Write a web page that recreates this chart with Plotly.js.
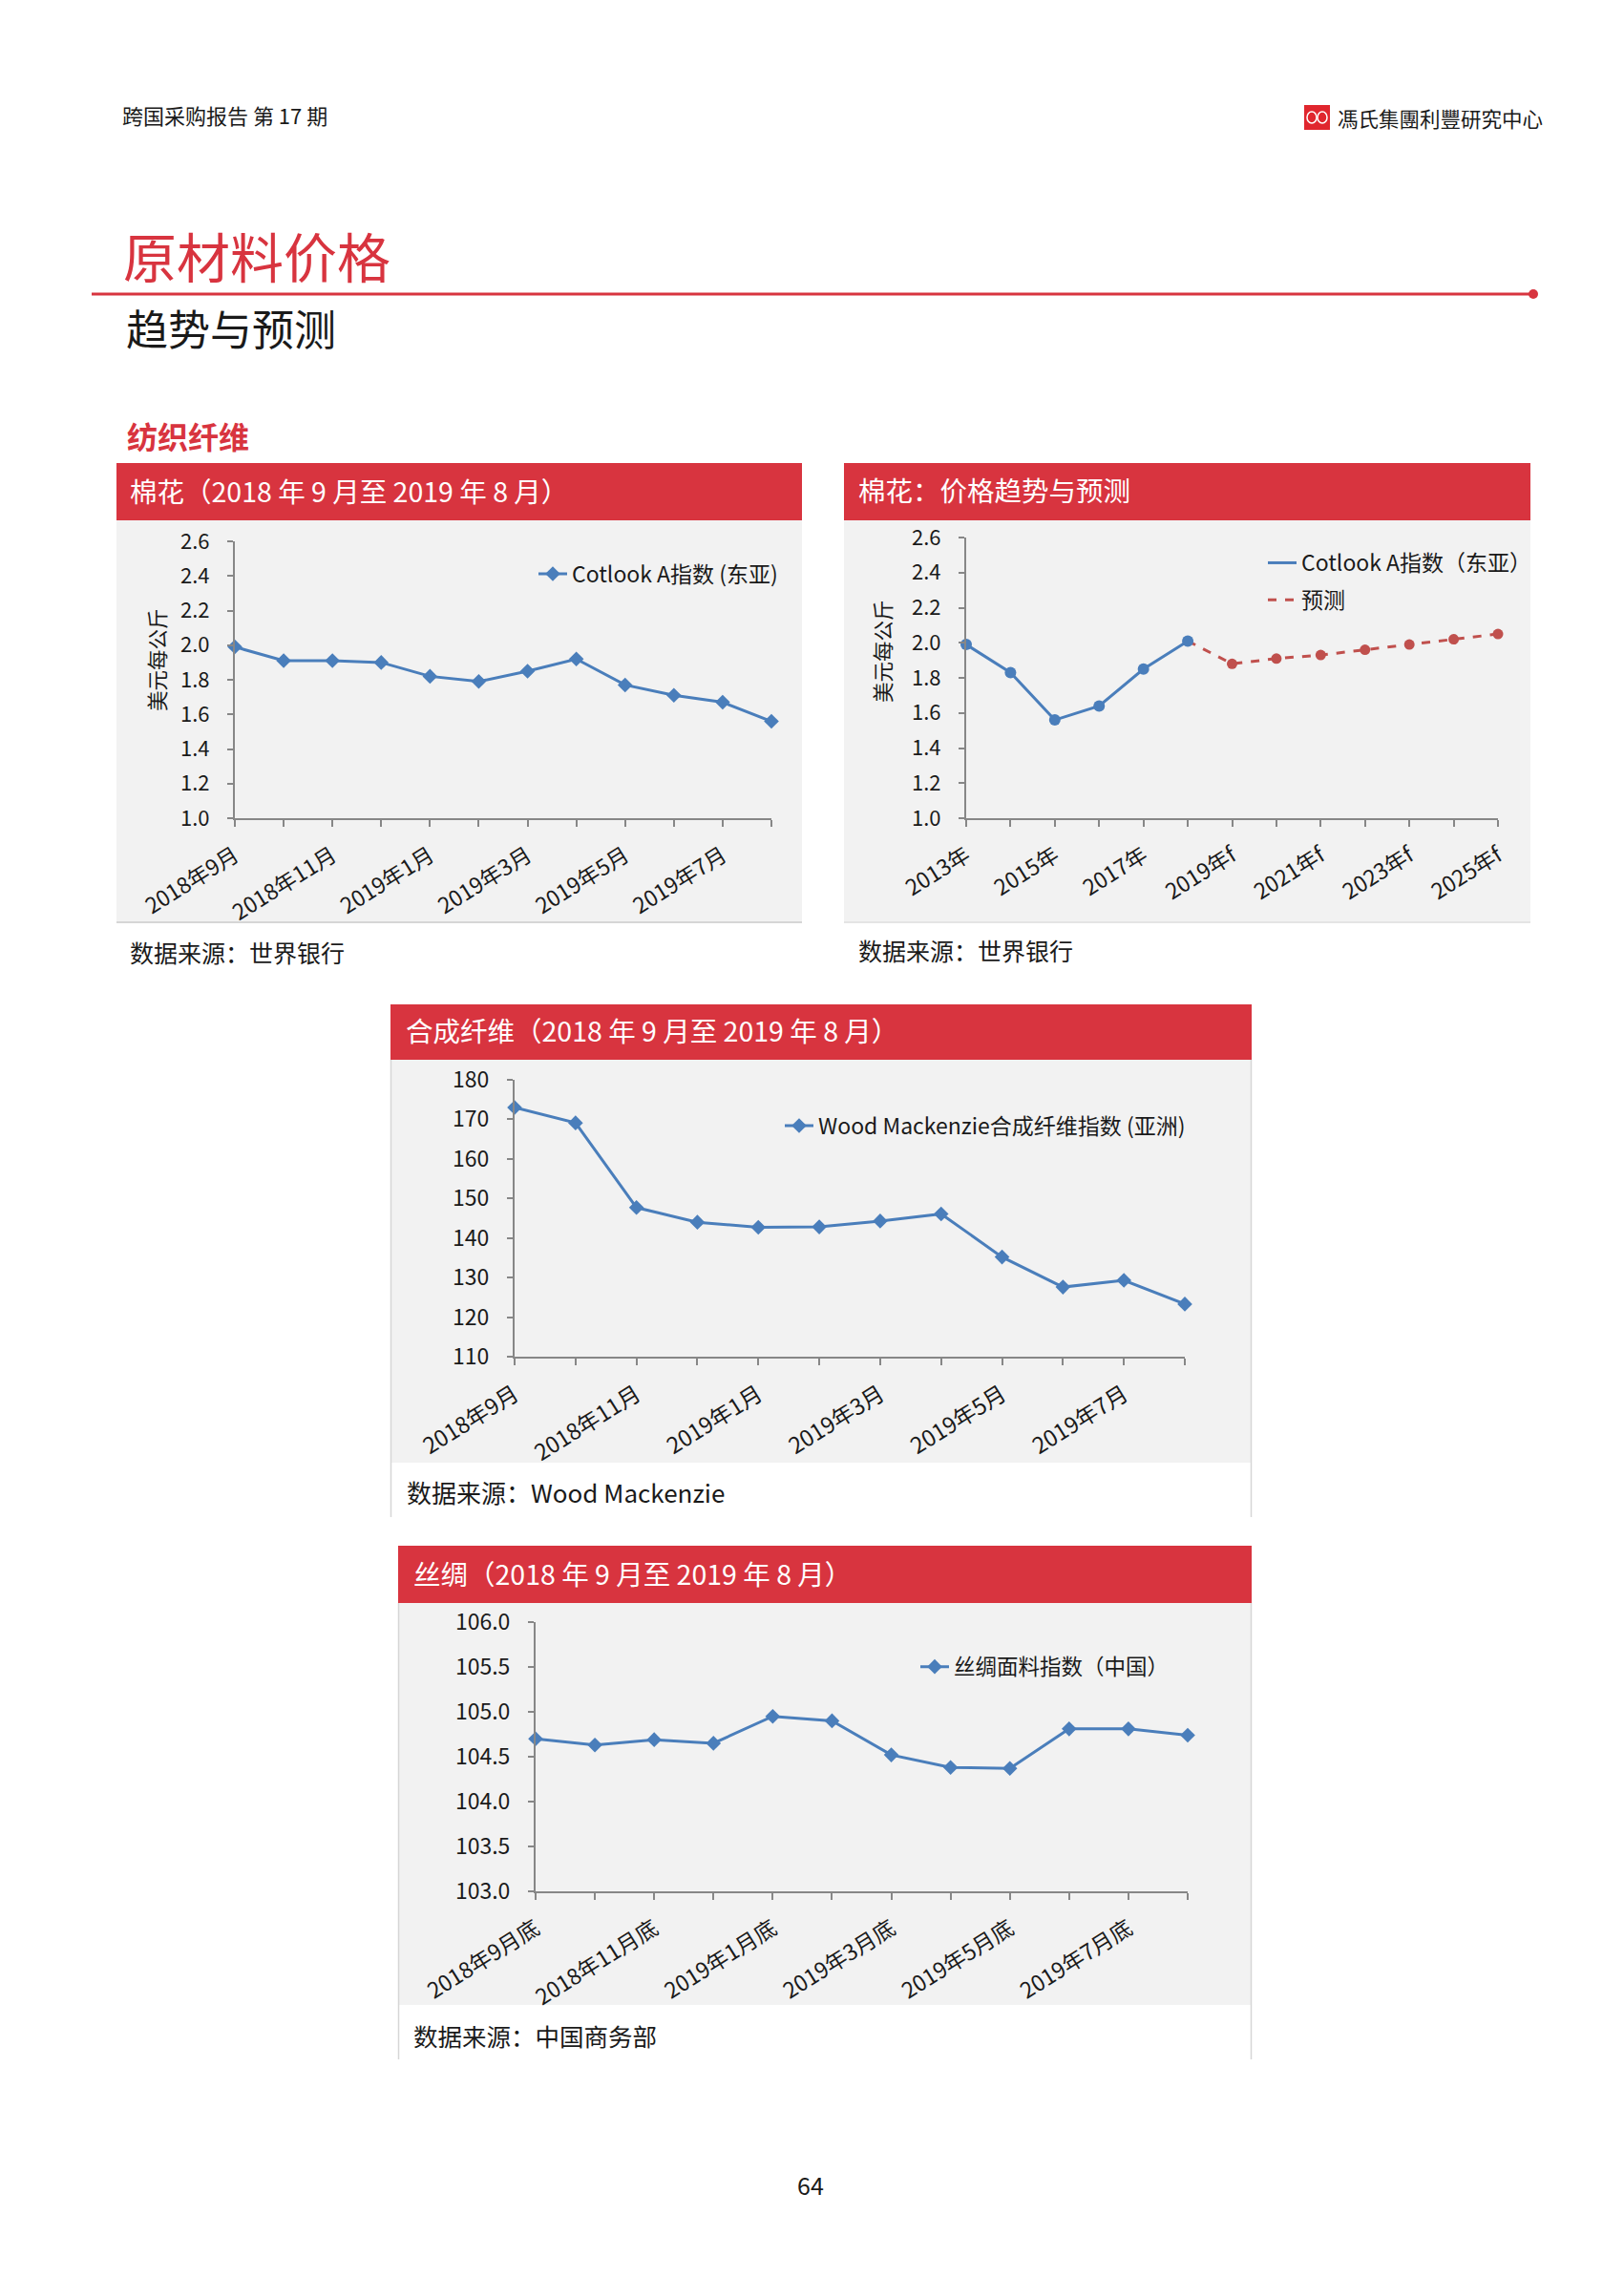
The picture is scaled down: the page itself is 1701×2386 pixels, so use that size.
<!DOCTYPE html>
<html><head><meta charset="utf-8">
<script src="https://cdn.plot.ly/plotly-3.0.1.min.js"></script>
<style>html,body{margin:0;padding:0;background:#fff}#page{width:1701px;height:2386px}</style>
</head><body><div id="page"></div>
<script>
// ---------- data ----------
const cottonMonths = ['2018年9月','2018年10月','2018年11月','2018年12月','2019年1月','2019年2月','2019年3月','2019年4月','2019年5月','2019年6月','2019年7月','2019年8月'];
const cottonMonthly = [1.99, 1.91, 1.91, 1.90, 1.82, 1.79, 1.85, 1.92, 1.77, 1.71, 1.67, 1.56];

const cottonYears = ['2013年','2014年','2015年','2016年','2017年','2018年'];
const cottonHist = [1.99, 1.83, 1.56, 1.64, 1.85, 2.01];
const forecastYears = ['2019年f','2020年f','2021年f','2022年f','2023年f','2024年f','2025年f'];
const cottonForecast = [1.88, 1.91, 1.93, 1.96, 1.99, 2.02, 2.05];

const synthMonths = ['2018年9月','2018年10月','2018年11月','2018年12月','2019年1月','2019年2月','2019年3月','2019年4月','2019年5月','2019年6月','2019年7月','2019年8月'];
const synthIndex = [173.0, 169.1, 147.7, 144.0, 142.7, 142.8, 144.3, 146.1, 135.2, 127.6, 129.3, 123.3];

const silkMonths = ['2018年9月底','2018年10月底','2018年11月底','2018年12月底','2019年1月底','2019年2月底','2019年3月底','2019年4月底','2019年5月底','2019年6月底','2019年7月底','2019年8月底'];
const silkIndex = [104.70, 104.63, 104.69, 104.65, 104.95, 104.90, 104.52, 104.38, 104.37, 104.81, 104.81, 104.74];

// ---------- layout helpers ----------
const W = 1701, H = 2386;
const X = v => v / W, Y = v => 1 - v / H;
const FONT = '"Noto Sans CJK SC", "Noto Sans", sans-serif';
const RED = '#D8343F', BLUE = '#4A7EBB', FRED = '#C0504D', PANEL = '#F2F2F2', AX = '#878787';

function xAxis(x0, x1, yName, cats, fontSize) {
  return {
    domain: [X(x0), X(x1)], anchor: yName, type: 'category',
    categoryorder: 'array', categoryarray: cats, range: [0, cats.length - 1],
    tickvals: cats, ticktext: cats.map((c, i) => i % 2 ? '' : c),
    tickangle: -32, showgrid: false, zeroline: false, showline: true,
    linecolor: AX, linewidth: 2, ticks: 'outside', ticklen: 7, tickwidth: 2, tickcolor: AX,
    tickfont: {family: FONT, size: fontSize, color: '#1a1a1a'}, ticklabelstandoff: 8,
    fixedrange: true
  };
}
function yAxis(y0, y1, xName, range, dtick, fmt, fontSize) {
  return {
    domain: [Y(y1), Y(y0)], anchor: xName, range: range, dtick: dtick, tick0: range[0],
    tickformat: fmt, showgrid: false, zeroline: false, showline: true,
    linecolor: AX, linewidth: 2, ticks: 'outside', ticklen: 6, tickwidth: 2, tickcolor: AX,
    tickfont: {family: FONT, size: fontSize, color: '#1a1a1a'}, ticklabelstandoff: 14,
    fixedrange: true
  };
}

const traces = [
  {x: cottonMonths, y: cottonMonthly, xaxis: 'x', yaxis: 'y', mode: 'lines+markers',
   name: 'Cotlook A指数 (东亚)', legend: 'legend', cliponaxis: false,
   line: {color: BLUE, width: 3}, marker: {symbol: 'diamond', size: 12, color: BLUE}},

  {x: cottonYears, y: cottonHist, xaxis: 'x2', yaxis: 'y2', mode: 'lines',
   name: 'Cotlook A指数（东亚）', legend: 'legend2', legendgroup: 'a', cliponaxis: false,
   line: {color: BLUE, width: 3}},
  {x: [cottonYears[cottonYears.length - 1]].concat(forecastYears),
   y: [cottonHist[cottonHist.length - 1]].concat(cottonForecast),
   xaxis: 'x2', yaxis: 'y2', mode: 'lines', name: '预测', legend: 'legend2', legendgroup: 'b',
   cliponaxis: false, line: {color: FRED, width: 3, dash: 'dash'}},
  {x: cottonYears, y: cottonHist, xaxis: 'x2', yaxis: 'y2', mode: 'markers', showlegend: false,
   cliponaxis: false, marker: {symbol: 'circle', size: 12, color: BLUE}},
  {x: forecastYears, y: cottonForecast, xaxis: 'x2', yaxis: 'y2', mode: 'markers', showlegend: false,
   cliponaxis: false, marker: {symbol: 'circle', size: 11, color: FRED}},

  {x: synthMonths, y: synthIndex, xaxis: 'x3', yaxis: 'y3', mode: 'lines+markers',
   name: 'Wood Mackenzie合成纤维指数 (亚洲)', legend: 'legend3', cliponaxis: false,
   line: {color: BLUE, width: 3}, marker: {symbol: 'diamond', size: 12, color: BLUE}},

  {x: silkMonths, y: silkIndex, xaxis: 'x4', yaxis: 'y4', mode: 'lines+markers',
   name: '丝绸面料指数（中国）', legend: 'legend4', cliponaxis: false,
   line: {color: BLUE, width: 3}, marker: {symbol: 'diamond', size: 12, color: BLUE}}
];

const allYears = cottonYears.concat(forecastYears);

function rect(x0, y0, x1, y1, fill, layer) {
  return {type: 'rect', xref: 'paper', yref: 'paper', x0: X(x0), x1: X(x1), y0: Y(y1), y1: Y(y0),
          fillcolor: fill, line: {width: 0}, layer: layer || 'below'};
}
function line(x0, y0, x1, y1, color, w) {
  return {type: 'line', xref: 'paper', yref: 'paper', x0: X(x0), x1: X(x1), y0: Y(y0), y1: Y(y1),
          line: {color: color, width: w}, layer: 'below'};
}
function txt(text, x, y, size, color, opts) {
  return Object.assign({text: text, xref: 'paper', yref: 'paper', x: X(x), y: Y(y),
    xanchor: 'left', yanchor: 'middle', showarrow: false,
    font: {family: FONT, size: size, color: color}}, opts || {});
}

const shapes = [
  // title rule
  line(96, 308, 1606, 308, RED, 3),
  {type: 'circle', xref: 'paper', yref: 'paper', x0: X(1601), x1: X(1611), y0: Y(313), y1: Y(303),
   fillcolor: RED, line: {width: 0}},
  // logo box
  {type: 'rect', xref: 'paper', yref: 'paper', x0: X(1366), x1: X(1393), y0: Y(136), y1: Y(110),
   fillcolor: '#E0262E', line: {width: 0}},
  {type: 'circle', xref: 'paper', yref: 'paper', x0: X(1369), x1: X(1379), y0: Y(129), y1: Y(117),
   line: {color: '#fff', width: 1.5}},
  {type: 'circle', xref: 'paper', yref: 'paper', x0: X(1380), x1: X(1390), y0: Y(129), y1: Y(117),
   line: {color: '#fff', width: 1.5}},
  // chart 1
  rect(122, 485, 840, 545, RED), rect(122, 545, 840, 966, PANEL),
  line(122, 966, 840, 966, '#D6D6D6', 2),
  // chart 2
  rect(884, 485, 1603, 545, RED), rect(884, 545, 1603, 966, PANEL),
  line(884, 966, 1603, 966, '#E4E4E4', 2),
  // chart 3
  rect(409, 1052, 1311, 1110, RED), rect(409, 1110, 1311, 1532, PANEL),
  line(409.5, 1110, 409.5, 1589, '#D6D6D6', 1.5), line(1310.5, 1110, 1310.5, 1589, '#D6D6D6', 1.5),
  // chart 4
  rect(417, 1619, 1311, 1679, RED), rect(417, 1679, 1311, 2100, PANEL),
  line(417.5, 1679, 417.5, 2157, '#D6D6D6', 1.5), line(1310.5, 1679, 1310.5, 2157, '#D6D6D6', 1.5)
];

const annotations = [
  txt('跨国采购报告 第 17 期', 126, 120, 22, '#1a1a1a'),
  txt('馮氏集團利豐研究中心', 1399, 124, 21.5, '#1a1a1a', {font: {family: '"Noto Sans CJK TC", ' + FONT, size: 21.5, color: '#1a1a1a'}}),
  txt('原材料价格', 127, 267, 56, RED),
  txt('趋势与预测', 130, 343, 44, '#1a1a1a'),
  txt('<b>纺织纤维</b>', 131, 456, 32, RED),

  txt('棉花（2018 年 9 月至 2019 年 8 月）', 134, 513, 28.5, '#ffffff'),
  txt('棉花：价格趋势与预测', 897, 512, 28.5, '#ffffff'),
  txt('合成纤维（2018 年 9 月至 2019 年 8 月）', 423, 1079, 28.5, '#ffffff'),
  txt('丝绸（2018 年 9 月至 2019 年 8 月）', 431, 1647, 28.5, '#ffffff'),

  txt('美元每公斤', 163, 691, 21.5, '#1a1a1a', {xanchor: 'center', textangle: -90}),
  txt('美元每公斤', 923, 682, 21.5, '#1a1a1a', {xanchor: 'center', textangle: -90}),

  txt('数据来源：世界银行', 134, 997, 25, '#1a1a1a'),
  txt('数据来源：世界银行', 897, 995, 25, '#1a1a1a'),
  txt('数据来源：Wood Mackenzie', 424, 1563, 26, '#1a1a1a'),
  txt('数据来源：中国商务部', 431, 2131, 25.5, '#1a1a1a'),

  txt('64', 849, 2288, 25, '#1a1a1a', {xanchor: 'center'})
];

function legendAt(xr, yc, size, extra) {
  return Object.assign({x: X(xr), y: Y(yc), xanchor: 'right', yanchor: 'middle',
    bgcolor: 'rgba(0,0,0,0)', borderwidth: 0,
    font: {family: FONT, size: size, color: '#1a1a1a'}}, extra || {});
}

const layout = {
  width: W, height: H, margin: {l: 0, r: 0, t: 0, b: 0},
  paper_bgcolor: '#ffffff', plot_bgcolor: 'rgba(0,0,0,0)',
  font: {family: FONT, color: '#1a1a1a'},
  xaxis: xAxis(246, 808, 'y', cottonMonths, 23),
  yaxis: yAxis(567, 857, 'x', [1.0, 2.6], 0.2, '.1f', 22),
  xaxis2: xAxis(1012, 1569, 'y2', allYears, 23),
  yaxis2: yAxis(563, 857, 'x2', [1.0, 2.6], 0.2, '.1f', 22),
  xaxis3: xAxis(539, 1241, 'y3', synthMonths, 23.5),
  yaxis3: yAxis(1131, 1421, 'x3', [110, 180], 10, 'd', 23),
  xaxis4: xAxis(561, 1244, 'y4', silkMonths, 23),
  yaxis4: yAxis(1699, 1981, 'x4', [103, 106], 0.5, '.1f', 23),
  legend: legendAt(820, 601, 23),
  legend2: legendAt(1610, 609, 23, {tracegroupgap: 6}),
  legend3: legendAt(1247, 1179, 23),
  legend4: legendAt(1230, 1746, 22.5),
  shapes: shapes, annotations: annotations
};

Plotly.newPlot('page', traces, layout, {staticPlot: true, displayModeBar: false});
</script></body></html>
